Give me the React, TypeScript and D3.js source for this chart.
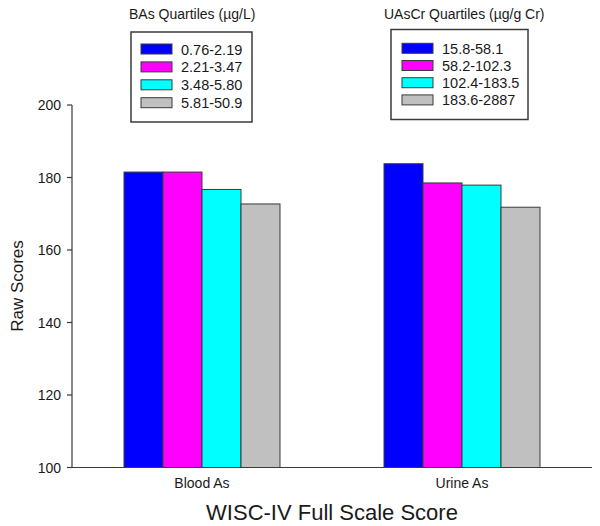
import React from "react";
import * as d3 from "d3";

const groups = ["Blood As", "Urine As"];
const seriesColors = ["#0000FF", "#FF00FF", "#00FFFF", "#C0C0C0"];
const bloodValues = [181.5, 181.5, 176.7, 172.7];
const urineValues = [183.8, 178.5, 177.9, 171.8];
const bloodLabels = ["0.76-2.19", "2.21-3.47", "3.48-5.80", "5.81-50.9"];
const urineLabels = ["15.8-58.1", "58.2-102.3", "102.4-183.5", "183.6-2887"];
const bloodTitle = "BAs Quartiles (\u00b5g/L)";
const urineTitle = "UAsCr Quartiles (\u00b5g/g Cr)";
const yTicks = [100, 120, 140, 160, 180, 200];
const yLabel = "Raw Scores";
const xTitle = "WISC-IV Full Scale Score";

const W = 600;
const H = 526;
const FONT = "'Liberation Sans', Arial, sans-serif";
const AX = "#3a3a3a";

function Legend({ title, labels, tx, boxX, boxY, boxW, boxH, swX, txtX, row0, rowStep }: any) {
  return (
    <g>
      <text x={tx} y={19} fontSize={14} fill="#1a1a1a" fontFamily={FONT}>{title}</text>
      <rect x={boxX} y={boxY} width={boxW} height={boxH} fill="none" stroke={AX} strokeWidth={1.5} />
      {labels.map((l: string, i: number) => {
        const cy = row0 + i * rowStep;
        return (
          <g key={l}>
            <rect x={swX} y={cy - 5} width={31} height={10} fill={seriesColors[i]} stroke={AX} strokeWidth={1} />
            <text x={txtX} y={cy + 5.5} fontSize={14.5} fill="#1a1a1a" fontFamily={FONT}>{l}</text>
          </g>
        );
      })}
    </g>
  );
}

export default function App() {
  const x0 = d3.scaleBand<string>().domain(groups).range([72, 592]).padding(0);
  const x1 = d3.scaleBand<number>().domain([0, 1, 2, 3]).range([52, 208]).padding(0);
  const y = d3.scaleLinear().domain([100, 200]).range([467.5, 105]);
  const data = [bloodValues, urineValues];

  return (
    <svg width={W} height={H} style={{ position: "absolute", left: 0, top: 0, background: "#fff" }}>
      <rect width={W} height={H} fill="#fff" />
      {groups.map((g, gi) => (
        <g key={g} transform={`translate(${x0(g)},0)`}>
          {data[gi].map((v, i) => (
            <rect
              key={i}
              x={x1(i)!}
              y={y(v)}
              width={x1.bandwidth()}
              height={y(100) - y(v)}
              fill={seriesColors[i]}
              stroke={AX}
              strokeWidth={1}
            />
          ))}
        </g>
      ))}
      <line x1={72} x2={72} y1={y(200)} y2={y(100)} stroke={AX} strokeWidth={1.2} />
      {yTicks.map((t) => (
        <g key={t}>
          <line x1={67} x2={72} y1={y(t)} y2={y(t)} stroke={AX} strokeWidth={1.2} />
          <text x={61} y={y(t) + 5} textAnchor="end" fontSize={14} fill="#1a1a1a" fontFamily={FONT}>{t}</text>
        </g>
      ))}
      <line x1={72} x2={592} y1={y(100)} y2={y(100)} stroke={AX} strokeWidth={1.2} />
      {groups.map((g) => (
        <text key={g} x={x0(g)! + x0.bandwidth() / 2} y={488} textAnchor="middle" fontSize={14} fill="#1a1a1a" fontFamily={FONT}>{g}</text>
      ))}
      <text x={332} y={520} textAnchor="middle" fontSize={22} fill="#1a1a1a" fontFamily={FONT}>{xTitle}</text>
      <text transform={`translate(23,286) rotate(-90)`} textAnchor="middle" fontSize={17} fill="#1a1a1a" fontFamily={FONT}>{yLabel}</text>
      <Legend title={bloodTitle} labels={bloodLabels} tx={129} boxX={131} boxY={32} boxW={121} boxH={90} swX={141} txtX={181} row0={49} rowStep={17.9} />
      <Legend title={urineTitle} labels={urineLabels} tx={384} boxX={391} boxY={29.5} boxW={137} boxH={90} swX={402} txtX={442} row0={48.3} rowStep={17.2} />
    </svg>
  );
}
